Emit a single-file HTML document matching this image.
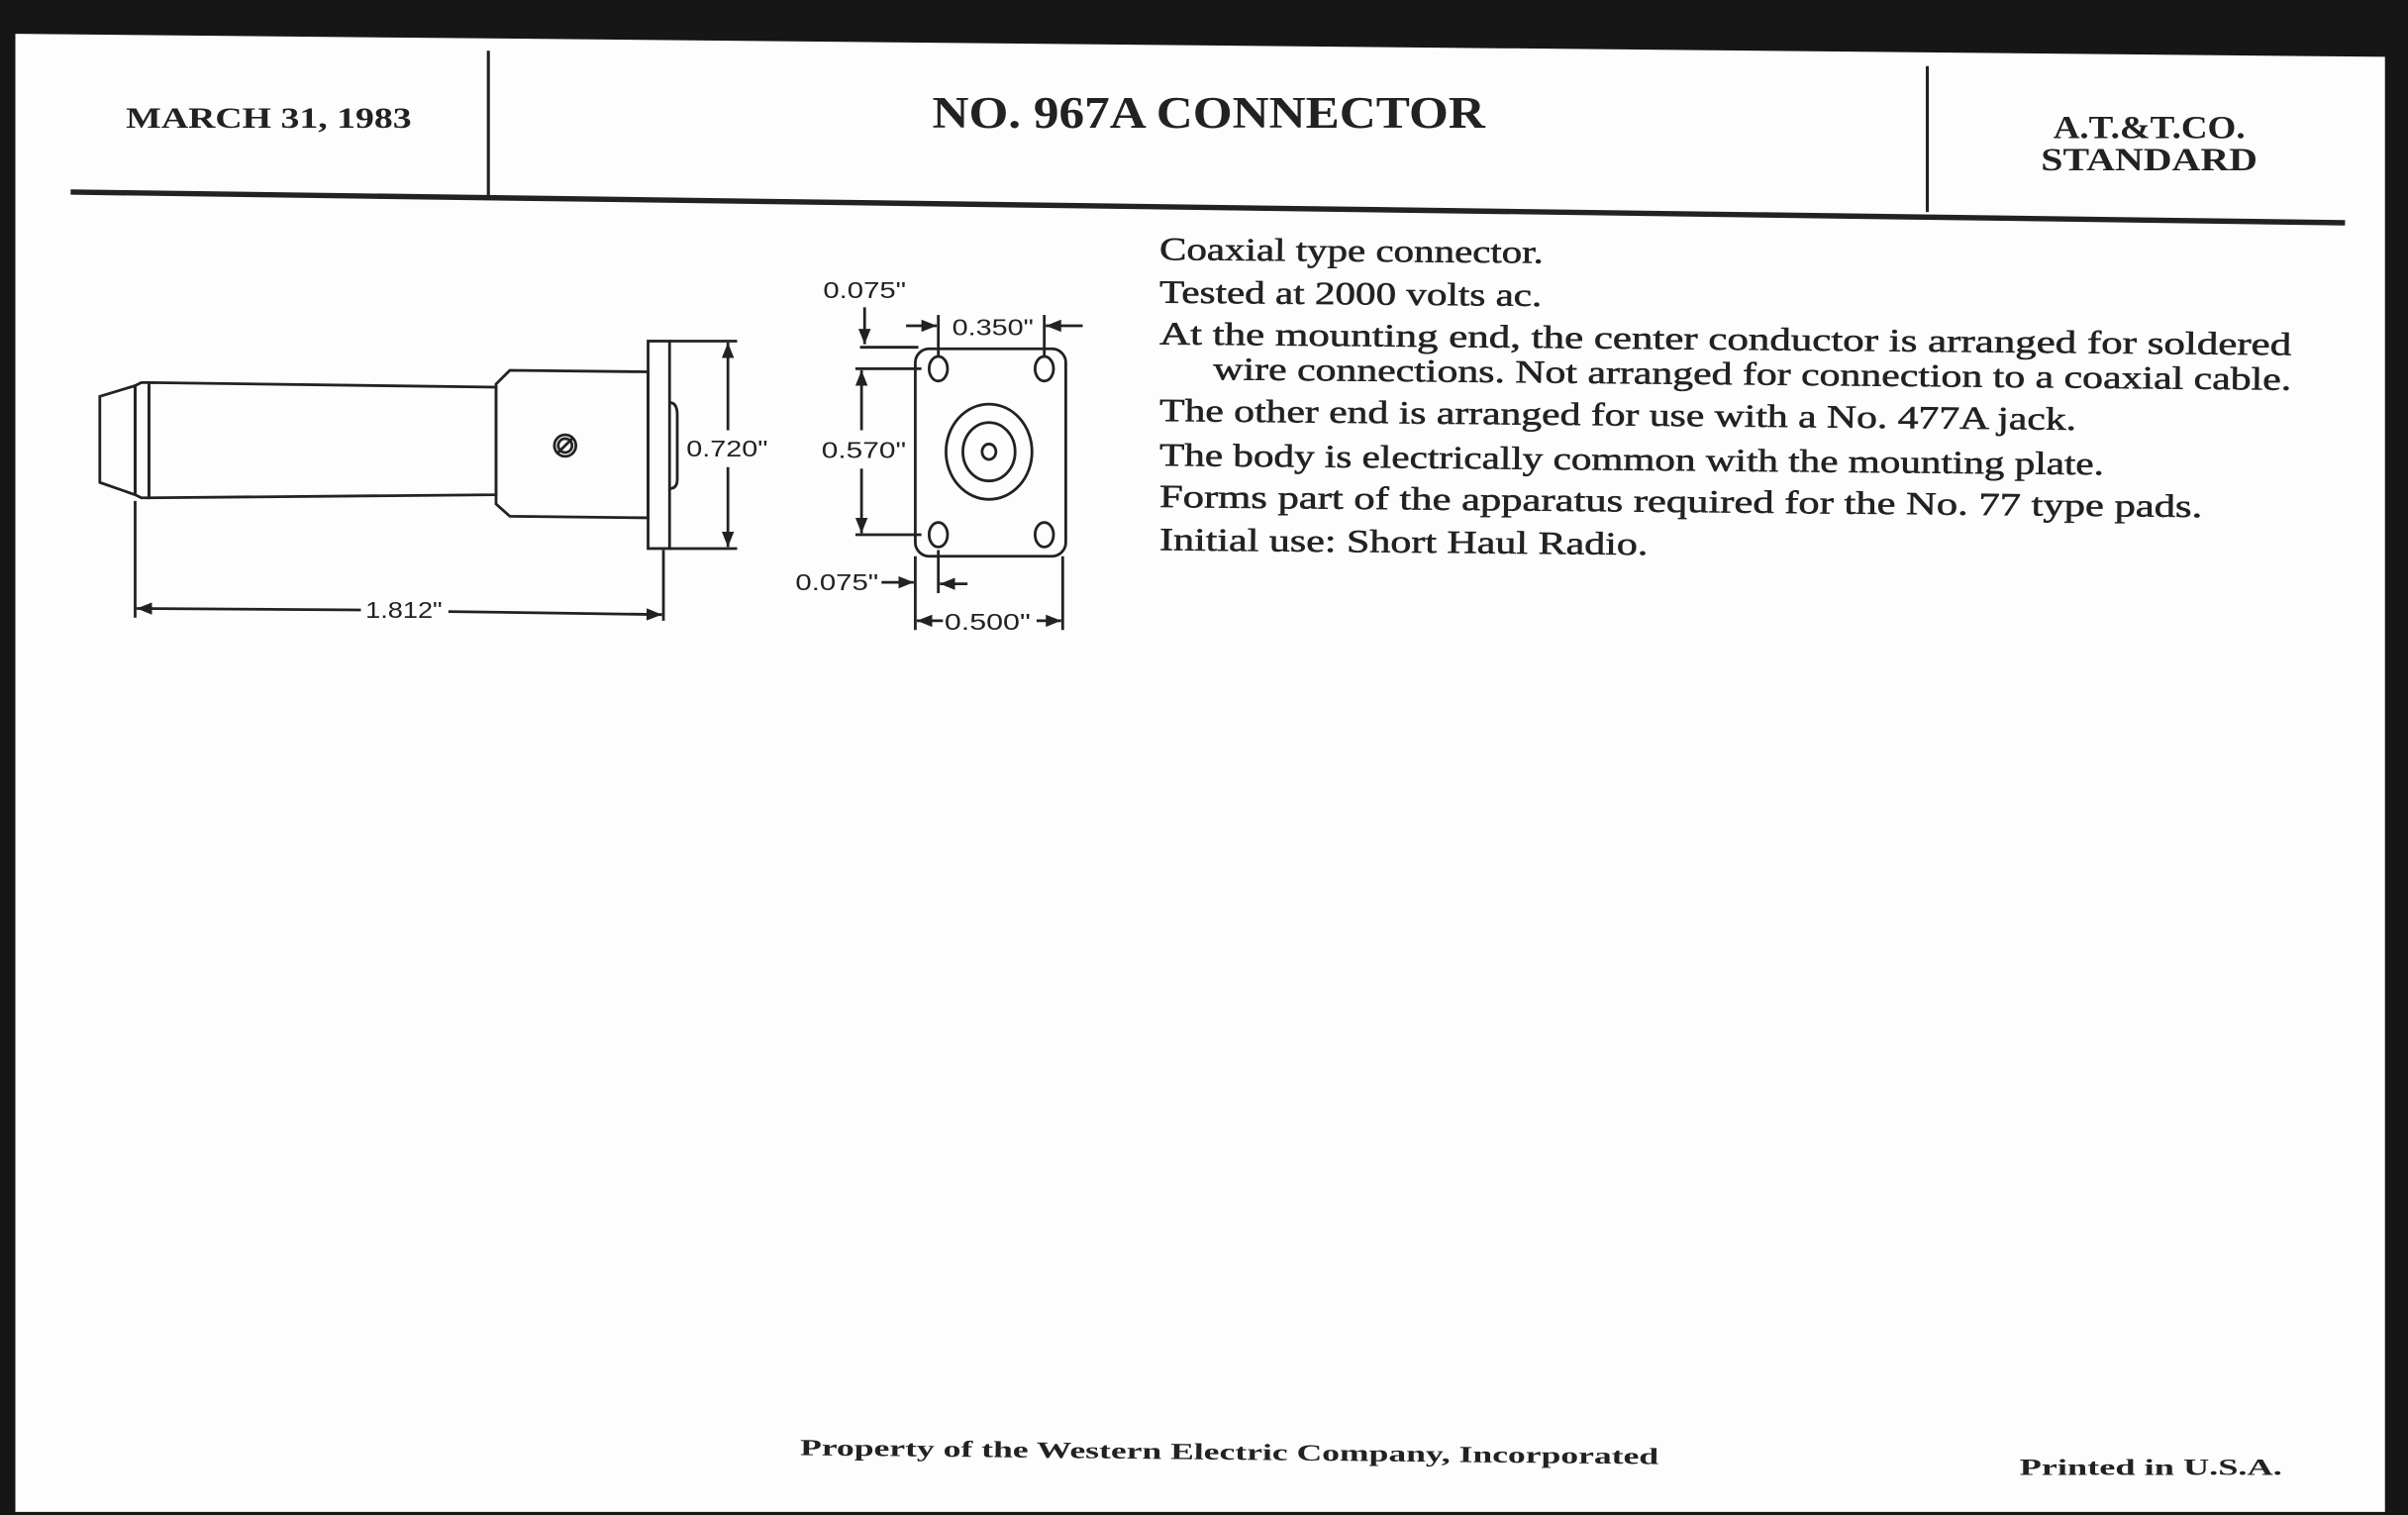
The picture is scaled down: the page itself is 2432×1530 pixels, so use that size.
<!DOCTYPE html>
<html><head><meta charset="utf-8"><style>html,body{margin:0;padding:0;background:#000;}svg{display:block}</style></head>
<body>
<svg width="2432" height="1530" viewBox="0 0 1568 986" preserveAspectRatio="none" xmlns="http://www.w3.org/2000/svg">
<rect x="0" y="0" width="1568" height="986" fill="#161616"/>
<polygon points="10,22 1553,37 1553,984 10,984" fill="#fdfdfd"/>
<g stroke="#222" fill="none">
<line x1="46" y1="125" x2="1527" y2="145" stroke-width="3.5"/>
<line x1="318" y1="33" x2="318" y2="128" stroke-width="2"/>
<line x1="1255" y1="43" x2="1255" y2="138" stroke-width="2"/>
</g>
<g font-family="'Liberation Serif',serif" font-weight="bold" fill="#222">
<text x="82" y="83" font-size="19" textLength="186" lengthAdjust="spacingAndGlyphs">MARCH 31, 1983</text>
<text x="607" y="83" font-size="29" textLength="360" lengthAdjust="spacingAndGlyphs">NO. 967A CONNECTOR</text>
<text x="1337" y="90" font-size="21" textLength="125" lengthAdjust="spacingAndGlyphs">A.T.&amp;T.CO.</text>
<text x="1329" y="111" font-size="21" textLength="141" lengthAdjust="spacingAndGlyphs">STANDARD</text>
<text x="521" y="947" font-size="15" textLength="559" lengthAdjust="spacingAndGlyphs" transform="rotate(0.6 521 947)">Property of the Western Electric Company, Incorporated</text>
<text x="1315" y="960" font-size="15" textLength="171" lengthAdjust="spacingAndGlyphs">Printed in U.S.A.</text>
</g>
<g font-family="'Liberation Serif',serif" fill="#222" stroke="#222" stroke-width="0.35" font-size="21">
<text x="755" y="169" textLength="250" lengthAdjust="spacingAndGlyphs" transform="rotate(0.5 755 169)">Coaxial type connector.</text>
<text x="755" y="197" textLength="249" lengthAdjust="spacingAndGlyphs" transform="rotate(0.5 755 197)">Tested at 2000 volts ac.</text>
<text x="755" y="224" textLength="737" lengthAdjust="spacingAndGlyphs" transform="rotate(0.55 755 224)">At the mounting end, the center conductor is arranged for soldered</text>
<text x="790" y="247" textLength="702" lengthAdjust="spacingAndGlyphs" transform="rotate(0.55 790 247)">wire connections. Not arranged for connection to a coaxial cable.</text>
<text x="755" y="274" textLength="597" lengthAdjust="spacingAndGlyphs" transform="rotate(0.55 755 274)">The other end is arranged for use with a No. 477A jack.</text>
<text x="755" y="303" textLength="615" lengthAdjust="spacingAndGlyphs" transform="rotate(0.55 755 303)">The body is electrically common with the mounting plate.</text>
<text x="755" y="330" textLength="679" lengthAdjust="spacingAndGlyphs" transform="rotate(0.55 755 330)">Forms part of the apparatus required for the No. 77 type pads.</text>
<text x="755" y="358" textLength="318" lengthAdjust="spacingAndGlyphs" transform="rotate(0.55 755 358)">Initial use: Short Haul Radio.</text>
</g>
<defs>
<marker id="a" markerWidth="10" markerHeight="8" refX="10" refY="4" orient="auto" markerUnits="userSpaceOnUse"><path d="M0,0 L10,4 L0,8 z" fill="#222"/></marker>
</defs>
<g stroke="#222" stroke-width="1.8" fill="none">
<polygon points="65,258 88,251 88,322 65,314"/>
<polygon points="88,251 92,249 97,249 97,324 92,324 88,322"/>
<polygon points="97,249 323,252 323,322 97,324"/>
<polygon points="323,250 332,241 422,242 422,337 332,336 323,328"/>
<rect x="422" y="222" width="14" height="135"/>
<path d="M436,262 Q441,262 441,270 L441,312 Q441,318 436,318"/>
<circle cx="368" cy="290" r="7"/>
<circle cx="368" cy="290" r="4.5"/>
<line x1="363" y1="295" x2="373" y2="285"/>
<line x1="436" y1="222" x2="480" y2="222"/>
<line x1="436" y1="357" x2="480" y2="357"/>
<line x1="474" y1="280" x2="474" y2="223" marker-end="url(#a)"/>
<line x1="474" y1="304" x2="474" y2="356" marker-end="url(#a)"/>
<line x1="88" y1="326" x2="88" y2="402"/>
<line x1="432" y1="358" x2="432" y2="404"/>
<line x1="235" y1="397" x2="89" y2="396" marker-end="url(#a)"/>
<line x1="292" y1="398" x2="431" y2="400" marker-end="url(#a)"/>
<rect x="596" y="227" width="98" height="135" rx="9"/>
<ellipse cx="611" cy="240" rx="6" ry="8"/>
<ellipse cx="680" cy="240" rx="6" ry="8"/>
<ellipse cx="611" cy="348" rx="6" ry="8"/>
<ellipse cx="680" cy="348" rx="6" ry="8"/>
<ellipse cx="644" cy="294" rx="28" ry="31"/>
<ellipse cx="644" cy="294" rx="17" ry="19"/>
<ellipse cx="644" cy="294" rx="4.5" ry="5"/>
<line x1="560" y1="226" x2="598" y2="226"/>
<line x1="563" y1="200" x2="563" y2="224" marker-end="url(#a)"/>
<line x1="611" y1="205" x2="611" y2="232"/>
<line x1="680" y1="205" x2="680" y2="232"/>
<line x1="590" y1="212" x2="610" y2="212" marker-end="url(#a)"/>
<line x1="705" y1="212" x2="681" y2="212" marker-end="url(#a)"/>
<line x1="557" y1="240" x2="600" y2="240"/>
<line x1="557" y1="348" x2="600" y2="348"/>
<line x1="561" y1="280" x2="561" y2="241" marker-end="url(#a)"/>
<line x1="561" y1="305" x2="561" y2="347" marker-end="url(#a)"/>
<line x1="596" y1="362" x2="596" y2="410"/>
<line x1="611" y1="358" x2="611" y2="386"/>
<line x1="692" y1="362" x2="692" y2="410"/>
<line x1="574" y1="379" x2="595" y2="379" marker-end="url(#a)"/>
<line x1="630" y1="380" x2="612" y2="380" marker-end="url(#a)"/>
<line x1="614" y1="404" x2="597" y2="404" marker-end="url(#a)"/>
<line x1="675" y1="404" x2="691" y2="404" marker-end="url(#a)"/>
</g>
<g font-family="'Liberation Sans',sans-serif" fill="#222" font-size="15">
<text x="447" y="297" textLength="53" lengthAdjust="spacingAndGlyphs">0.720"</text>
<text x="238" y="402" textLength="50" lengthAdjust="spacingAndGlyphs">1.812"</text>
<text x="536" y="194" textLength="54" lengthAdjust="spacingAndGlyphs">0.075"</text>
<text x="620" y="218" textLength="53" lengthAdjust="spacingAndGlyphs">0.350"</text>
<text x="535" y="298" textLength="55" lengthAdjust="spacingAndGlyphs">0.570"</text>
<text x="518" y="384" textLength="54" lengthAdjust="spacingAndGlyphs">0.075"</text>
<text x="615" y="410" textLength="56" lengthAdjust="spacingAndGlyphs">0.500"</text>
</g>
</svg>
</body></html>
